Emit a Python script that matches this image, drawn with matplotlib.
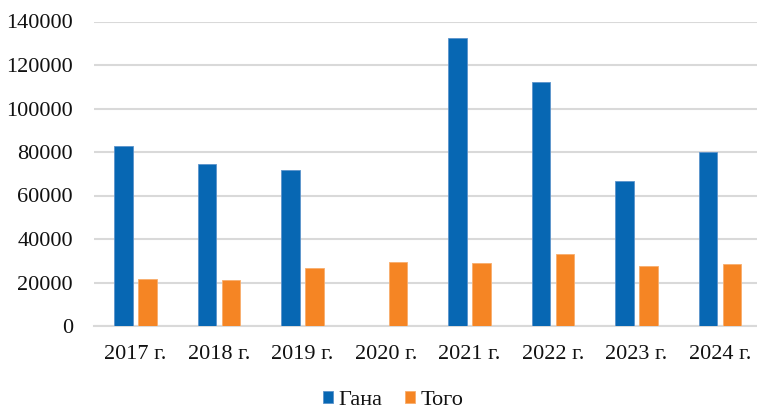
import matplotlib as mpl
import numpy as np
import matplotlib.pyplot as plt

# data
years = ['2017 г.', '2018 г.', '2019 г.', '2020 г.', '2021 г.', '2022 г.', '2023 г.', '2024 г.']
ghana = [82800, 74700, 71500, 0, 132600, 112100, 66700, 79900]
togo = [21500, 21300, 26500, 29600, 29000, 33300, 27800, 28700]

mpl.rcParams.update({
    "font.family": ["Liberation Serif", "DejaVu Serif"],
    "font.size": 16,
})

fig = plt.figure(figsize=(7.57, 4.09), dpi=100)
ax = fig.add_axes([93.6 / 757, 1 - 326 / 409, 668 / 757, (326 - 21.5) / 409])

x = np.arange(len(years))
w = 0.223
off = 0.1435
ax.bar(x - off, ghana, w, color='#0767b3', edgecolor='#5b93cc', linewidth=0.6, label='Гана', zorder=3)
ax.bar(x + off, togo, w, color='#f58524', edgecolor='#f8ad6c', linewidth=0.6, label='Того', zorder=3)

ax.set_xlim(-0.5, len(years) - 0.5)
ax.set_ylim(0, 140000)
ax.set_yticks(np.arange(0, 140001, 20000))
ax.set_xticks(x)
ax.set_xticklabels(years)
ax.yaxis.grid(True, color='#d9d9d9', linewidth=1.5, zorder=0)
ax.set_axisbelow(True)
for s in ['top', 'right', 'left']:
    ax.spines[s].set_visible(False)
ax.spines['bottom'].set_color('#d9d9d9')
ax.spines['bottom'].set_linewidth(1.5)
ax.tick_params(axis='y', length=0, pad=15, colors='#111111')
ax.tick_params(axis='x', length=0, pad=14, colors='#111111')

leg = fig.legend(loc='center', bbox_to_anchor=(0.519, 0.022), ncol=2, frameon=False,
                 handlelength=0.45, handleheight=0.45, handletextpad=0.25, columnspacing=1.0,
                 borderpad=0, borderaxespad=0)
for t in leg.get_texts():
    t.set_color('#111111')

fig.savefig('out.png', dpi=100)
